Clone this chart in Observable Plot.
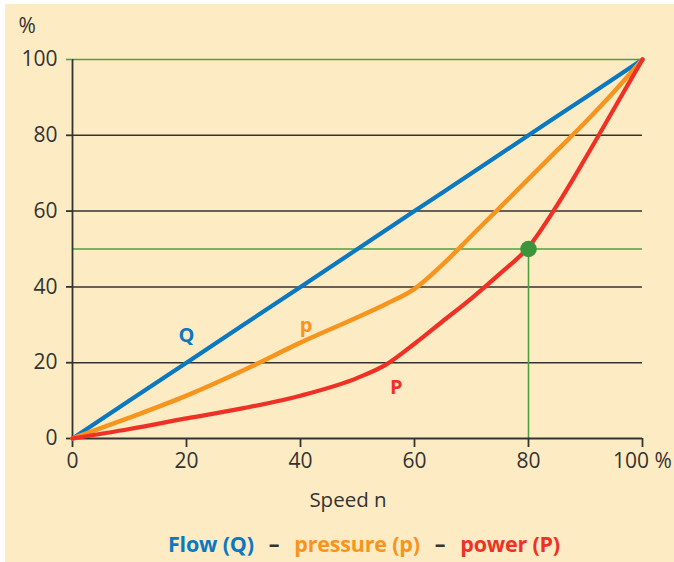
<!DOCTYPE html>
<html>
<head>
<meta charset="utf-8">
<script src="https://cdn.jsdelivr.net/npm/d3@7"></script>
<script src="https://cdn.jsdelivr.net/npm/@observablehq/plot@0.6"></script>
<style>
  html, body { margin: 0; padding: 0; background: #ffffff; }
  #panel {
    position: absolute; left: 5px; top: 4px; width: 669px; height: 558px;
    background: #FDEBC4; font-family: "Open Sans", sans-serif;
  }
  #legend {
    position: absolute; left: 163px; top: 525px; white-space: nowrap;
    font-size: 21.5px; font-weight: 700; line-height: 30px; letter-spacing: -0.2px;
  }
  #legend .dash { color: #333; margin: 0 15px; }
</style>
</head>
<body>
<div id="panel"><div id="chart"></div><div id="legend"></div></div>
<script>
// Speed n (%)
const speed = [0, 10, 20, 30, 40, 50, 55, 60, 65, 70, 75, 80, 85, 90, 95, 100];
// Flow Q (%) — proportional to speed
const flow = [0, 10, 20, 30, 40, 50, 55, 60, 65, 70, 75, 80, 85, 90, 95, 100];
// pressure p (%)
const pressure = [0, 5.5, 11.3, 18, 25.3, 32, 35.5, 39.5, 46, 53.5, 61, 68.5, 76, 83.5, 91.5, 100];
// power P (%)
const power = [0, 2.5, 5.3, 8, 11.3, 16, 19.5, 25, 31, 37, 43.5, 50.5, 61.5, 74, 87, 100];

const xTicks = [0, 20, 40, 60, 80, 100];
const yTicks = [0, 20, 40, 60, 80, 100];
const gridValues = [20, 40, 60, 80];
const markerPoint = {x: 80, y: 50};

const seriesNames = ["Flow (Q)", "pressure (p)", "power (P)"];
const seriesColors = ["#0B78C1", "#F7941E", "#EE3124"];
const curveLabels = [
  {x: 20, y: 27.2, text: "Q", color: "#0B78C1"},
  {x: 41, y: 29.8, text: "p", color: "#F7941E"},
  {x: 56.8, y: 13.5, text: "P", color: "#EE3124"}
];

const toRows = (vals) => speed.map((s, i) => ({x: s, y: vals[i]}));
const flowRows = toRows(flow);
const pressureRows = toRows(pressure);
const powerRows = toRows(power);

const ink = "#333333";
const green = "#4DA040";

const chart = Plot.plot({
  width: 669,
  height: 520,
  marginLeft: 67,
  marginRight: 32,
  marginTop: 55,
  marginBottom: 86,
  style: {background: "transparent", fontFamily: "Open Sans, sans-serif", color: ink},
  x: {domain: [0, 100]},
  y: {domain: [0, 100]},
  marks: [
    // black gridlines
    Plot.ruleY(gridValues, {x1: 0, x2: 100, stroke: ink, strokeWidth: 1.5}),
    // green reference lines
    Plot.ruleY([100], {x1: 0, x2: 100, stroke: green, strokeWidth: 1.6}),
    Plot.ruleY([markerPoint.y], {x1: 0, x2: 100, stroke: green, strokeWidth: 1.6}),
    Plot.ruleX([markerPoint.x], {y1: 0, y2: markerPoint.y, stroke: green, strokeWidth: 1.6}),
    // axes lines
    Plot.ruleX([0], {y1: 0, y2: 100, stroke: ink, strokeWidth: 1.8}),
    Plot.ruleY([0], {x1: 0, x2: 100, stroke: ink, strokeWidth: 2}),
    // y axis
    Plot.axisY({ticks: yTicks.filter(d => d < 100), tickSize: 6, tickPadding: 9, stroke: ink, strokeWidth: 1.8,
      fontSize: 21, fill: ink, label: null}),
    Plot.axisY({ticks: [100], tickSize: 6, tickPadding: 9, stroke: green, strokeWidth: 1.6,
      fontSize: 21, fill: ink, label: null}),
    // x axis
    Plot.axisX({ticks: xTicks, tickSize: 9, tickPadding: 6, stroke: ink, strokeWidth: 1.8,
      fontSize: 21, fill: ink, label: null, tickFormat: d => d === 100 ? "100 %" : String(d)}),
    // curves
    Plot.line(flowRows, {x: "x", y: "y", stroke: seriesColors[0], strokeWidth: 4.2}),
    Plot.line(pressureRows, {x: "x", y: "y", stroke: seriesColors[1], strokeWidth: 4.5, curve: "monotone-x"}),
    Plot.line(powerRows, {x: "x", y: "y", stroke: seriesColors[2], strokeWidth: 4.2, curve: "monotone-x"}),
    // marker
    Plot.dot([markerPoint], {x: "x", y: "y", r: 8.3, fill: "#3E943A", stroke: null}),
    // curve labels
    Plot.text(curveLabels, {x: "x", y: "y", text: "text", fill: d => d.color, fontSize: 20, fontWeight: "bold"}),
    // axis titles
    Plot.text(["%"], {frameAnchor: "top-left", dx: -54, dy: -41, fontSize: 21, fill: ink, textAnchor: "start"}),
    Plot.text(["Speed n"], {frameAnchor: "bottom", dx: -9.5, dy: 68, fontSize: 20.5, fill: ink})
  ]
});
document.getElementById("chart").appendChild(chart);

const legend = document.getElementById("legend");
seriesNames.forEach((name, i) => {
  if (i > 0) {
    const dash = document.createElement("span");
    dash.className = "dash";
    dash.textContent = "–";
    legend.appendChild(dash);
  }
  const s = document.createElement("span");
  s.style.color = seriesColors[i];
  s.textContent = name;
  legend.appendChild(s);
});
</script>
</body>
</html>
